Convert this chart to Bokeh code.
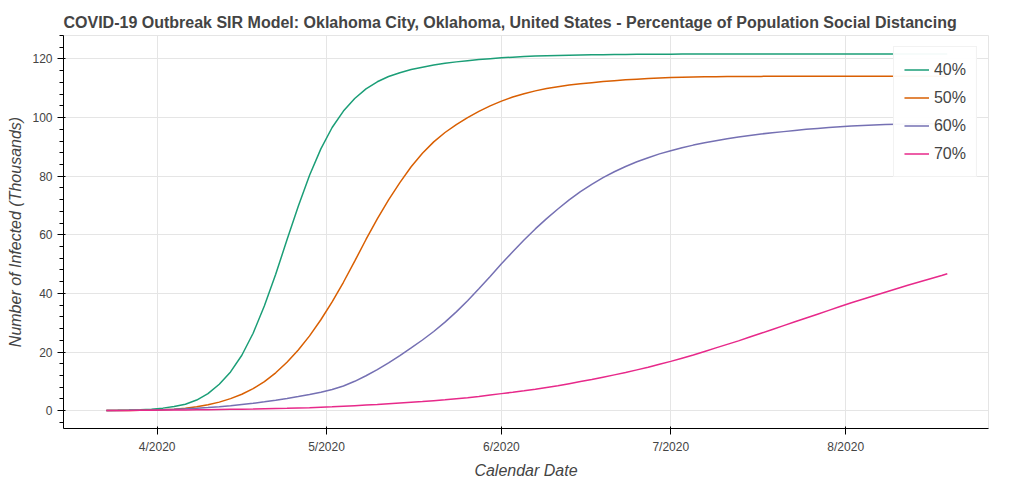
import pandas as pd
from bokeh.plotting import figure
from bokeh.models import Range1d, DatetimeTickFormatter, MonthsTicker
from bokeh.embed import file_html
from bokeh.resources import INLINE

# every second day from 2020-03-23 to 2020-08-18, plus the last day 2020-08-19
dates = list(pd.date_range("2020-03-23", "2020-08-18", freq="2D").strftime("%Y-%m-%d")) + ["2020-08-19"]

infected_40 = [
    0.06, 0.11, 0.18, 0.3, 0.5, 0.85, 1.4, 2.2, 3.6, 5.8,
    9.0, 13.2, 18.9, 26.4, 35.8, 46.5, 58.3, 69.7, 80.3, 89.3,
    96.6, 102.2, 106.5, 109.8, 112.2, 114.0, 115.3, 116.4, 117.2, 117.9,
    118.5, 119.0, 119.4, 119.8, 120.1, 120.4, 120.6, 120.8, 121.0, 121.1,
    121.2, 121.3, 121.35, 121.4, 121.45, 121.5, 121.55, 121.6, 121.6, 121.62,
    121.64, 121.65, 121.66, 121.67, 121.68, 121.68, 121.69, 121.69, 121.7, 121.7,
    121.7, 121.7, 121.7, 121.7, 121.7, 121.7, 121.7, 121.7, 121.7, 121.7,
    121.7, 121.7, 121.7, 121.7, 121.7, 121.7,
]

infected_50 = [
    0.03, 0.05, 0.08, 0.12, 0.18, 0.27, 0.45, 0.8, 1.3, 2.0,
    2.9, 4.1, 5.6, 7.5, 9.9, 12.9, 16.5, 20.7, 25.5, 31.0,
    37.1, 43.8, 51.0, 58.4, 65.4, 71.9, 77.8, 83.2, 87.8, 91.7,
    94.9, 97.6, 100.0, 102.1, 104.0, 105.6, 107.0, 108.1, 109.1, 109.9,
    110.5, 111.1, 111.5, 111.9, 112.3, 112.6, 112.9, 113.1, 113.3, 113.5,
    113.65, 113.75, 113.85, 113.9, 113.95, 114.0, 114.0, 114.05, 114.05, 114.1,
    114.1, 114.1, 114.1, 114.1, 114.1, 114.1, 114.1, 114.1, 114.1, 114.1,
    114.1, 114.1, 114.1, 114.1, 114.1, 114.1,
]

infected_60 = [
    0.04, 0.06, 0.1, 0.15, 0.22, 0.32, 0.45, 0.6, 0.8, 1.05,
    1.35, 1.7, 2.1, 2.5, 3.0, 3.55, 4.15, 4.8, 5.5, 6.3,
    7.2, 8.4, 10.0, 11.9, 14.0, 16.3, 18.8, 21.4, 24.1, 27.0,
    30.2, 33.7, 37.5, 41.6, 45.8, 50.1, 54.2, 58.2, 62.0, 65.5,
    68.8, 71.9, 74.7, 77.2, 79.5, 81.5, 83.3, 84.9, 86.3, 87.6,
    88.7, 89.7, 90.6, 91.4, 92.1, 92.8, 93.4, 93.9, 94.4, 94.8,
    95.2, 95.6, 96.0, 96.3, 96.6, 96.9, 97.1, 97.3, 97.5, 97.6,
    97.7, 97.8, 97.85, 97.9, 97.95, 98.0,
]

infected_70 = [
    0.04, 0.06, 0.08, 0.11, 0.14, 0.17, 0.2, 0.25, 0.29, 0.33,
    0.38, 0.44, 0.5, 0.56, 0.64, 0.72, 0.8, 0.9, 1.0, 1.15,
    1.3, 1.5, 1.7, 1.9, 2.1, 2.35, 2.6, 2.85, 3.1, 3.4,
    3.7, 4.05, 4.4, 4.8, 5.3, 5.8, 6.25, 6.75, 7.3, 7.9,
    8.5, 9.2, 9.9, 10.6, 11.4, 12.2, 13.0, 13.9, 14.8, 15.8,
    16.8, 17.9, 19.0, 20.2, 21.4, 22.6, 23.8, 25.1, 26.4, 27.7,
    29.0, 30.3, 31.6, 32.9, 34.2, 35.5, 36.8, 38.0, 39.2, 40.4,
    41.6, 42.8, 43.9, 45.0, 46.1, 46.7,
]

series = [infected_40, infected_50, infected_60, infected_70]
labels = ["40%", "50%", "60%", "70%"]
colors = ["#1b9e77", "#d95f02", "#7570b3", "#e7298a"]

x = pd.to_datetime(dates)
x_start = pd.Timestamp("2020-04-01") - pd.Timedelta(days=16.6)
x_end = pd.Timestamp("2020-08-01") + pd.Timedelta(days=25.3)

FONT = "Liberation Sans"
TXT = "#444444"

p = figure(
    frame_width=925, frame_height=393,
    x_axis_type="datetime",
    x_range=Range1d(x_start, x_end),
    y_range=Range1d(-6.1, 128.0),
    output_backend="svg", toolbar_location=None,
    title="COVID-19 Outbreak SIR Model: Oklahoma City, Oklahoma, United States - Percentage of Population Social Distancing",
    min_border_left=63, min_border_right=20, min_border_top=35, min_border_bottom=5,
)

for vals, lab, col in zip(series, labels, colors):
    p.line(x, vals, line_color=col, line_width=1.5, legend_label=lab)

p.title.text_font = FONT
p.title.text_font_size = "16px"
p.title.text_font_style = "bold"
p.title.text_color = TXT

p.xaxis.ticker = MonthsTicker(months=list(range(1, 13)))
p.xaxis.formatter = DatetimeTickFormatter(months="%-m/%Y", days="%-m/%Y")
p.xaxis.minor_tick_line_color = None
p.xaxis.axis_label = "Calendar Date"
p.yaxis.axis_label = "Number of Infected (Thousands)"

for ax in [p.xaxis[0], p.yaxis[0]]:
    ax.axis_label_text_font = FONT
    ax.axis_label_text_font_size = "16px"
    ax.axis_label_text_font_style = "italic"
    ax.axis_label_text_color = TXT
    ax.major_label_text_font = FONT
    ax.major_label_text_font_size = "12px"
    ax.major_label_text_color = TXT

p.legend.location = "top_right"
p.legend.label_text_font = FONT
p.legend.label_text_font_size = "16px"
p.legend.label_text_color = TXT
p.legend.glyph_width = 25
p.legend.glyph_height = 25
p.legend.spacing = 3
p.legend.padding = 10
p.legend.margin = 11

open("out.html", "w").write(file_html(p, INLINE))
